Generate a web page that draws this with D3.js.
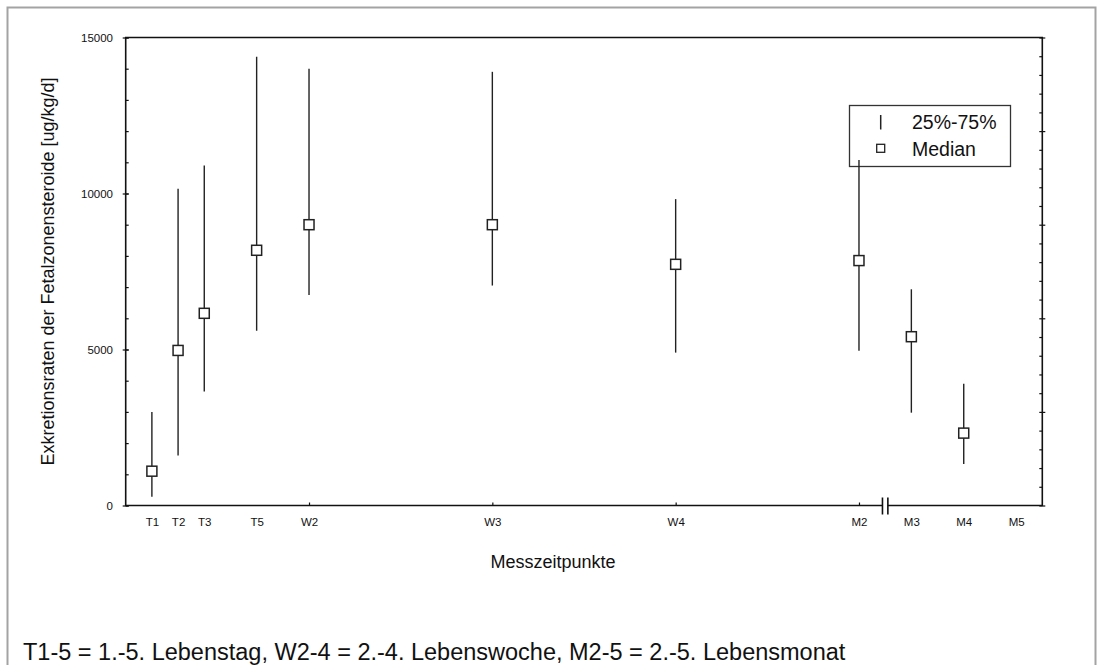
<!DOCTYPE html>
<html>
<head>
<meta charset="utf-8">
<script src="https://cdn.jsdelivr.net/npm/d3@7"></script>
<style>
  html, body { margin: 0; padding: 0; background: #fff; }
  svg { display: block; font-family: "Liberation Sans", Arial, sans-serif; }
</style>
</head>
<body>
<svg id="chart" width="1098" height="665"></svg>
<script>
// Measurement points (x position in days-like units, labels on the axis)
const labels    = ["T1", "T2", "T3", "T5", "W2", "W3", "W4", "M2", "M3", "M4", "M5"];
const positions = [1, 2, 3, 5, 7, 14, 21, 28, 30, 32, 34];
// Excretion rates [ug/kg/d]: median and interquartile range (M5 has no data)
const medians = [1100, 4970, 6160, 8180, 9000, 9000, 7730, 7850, 5410, 2320, null];
const q25     = [280, 1600, 3650, 5600, 6750, 7050, 4900, 4960, 2975, 1330, null];
const q75     = [3000, 10150, 10900, 14380, 14000, 13900, 9820, 11070, 6930, 3900, null];
// Axis tick values
const yMajorTicks = [0, 5000, 10000, 15000];
const yMinorTicks = d3.range(0, 15001, 1000);
const yRightTicks = d3.range(0, 15001, 600);
const yRightMajor = d3.range(0, 15001, 3000);
const xTickMarks  = [7, 14, 21, 28];
const axisBreakAt = 29;

const svg = d3.select("#chart");
const pLeft = 125.7, pRight = 1042.3, pTop = 37.5, pBottom = 505.5;

const x = d3.scaleLinear().domain([0, 35]).range([pLeft, pRight]);
const y = d3.scaleLinear().domain([0, 15000]).range([pBottom, pTop]);

const ink = "#111";

// outer figure border
svg.append("rect")
  .attr("x", 7.5).attr("y", 7.5).attr("width", 1088).attr("height", 720)
  .attr("fill", "none").attr("stroke", "#a3a3a3").attr("stroke-width", 2);

function styleAxis(g) {
  g.select(".domain").remove();
  g.selectAll(".tick line").attr("stroke", ink).attr("stroke-width", 1.2);
  g.selectAll(".tick text").attr("fill", "#111").attr("font-size", "11.5px")
    .attr("font-family", "Liberation Sans, Arial, sans-serif");
}

// left axis: inward minor ticks, crossing major ticks with labels
svg.append("g").attr("transform", `translate(${pLeft},0)`)
  .call(d3.axisLeft(y).tickValues(yMinorTicks).tickSize(-3).tickFormat(""))
  .call(styleAxis);
svg.append("g").attr("transform", `translate(${pLeft},0)`)
  .call(d3.axisLeft(y).tickValues(yMajorTicks).tickSize(3).tickPadding(9.7).tickFormat(d3.format("d")))
  .call(styleAxis);
svg.append("g").attr("transform", `translate(${pLeft},0)`)
  .call(d3.axisLeft(y).tickValues(yMajorTicks).tickSize(-3).tickFormat(""))
  .call(styleAxis);

// right axis: unlabeled ticks
svg.append("g").attr("transform", `translate(${pRight},0)`)
  .call(d3.axisRight(y).tickValues(yRightTicks).tickSize(-3).tickFormat(""))
  .call(styleAxis);
svg.append("g").attr("transform", `translate(${pRight},0)`)
  .call(d3.axisRight(y).tickValues(yRightMajor).tickSize(3).tickFormat(""))
  .call(styleAxis);

// bottom axis: labels at each measurement point, tick marks at weekly steps
svg.append("g").attr("transform", `translate(0,${pBottom})`)
  .call(d3.axisBottom(x).tickValues(positions).tickSize(0).tickPadding(12)
    .tickFormat((d, i) => labels[i]))
  .call(styleAxis);
svg.append("g").attr("transform", `translate(0,${pBottom})`)
  .call(d3.axisBottom(x).tickValues(xTickMarks).tickSize(-3).tickFormat(""))
  .call(styleAxis);

// plot frame, with a gap in the bottom line for the axis break
const bx = x(axisBreakAt);
const frame = svg.append("g").attr("stroke", ink).attr("stroke-width", 1.6).attr("fill", "none");
frame.append("path").attr("d", `M${bx - 2.7},${pBottom}H${pLeft}V${pTop}H${pRight}V${pBottom}H${bx + 2.7}`);
frame.append("line").attr("x1", bx - 2.7).attr("x2", bx - 2.7).attr("y1", pBottom - 8).attr("y2", pBottom + 9);
frame.append("line").attr("x1", bx + 2.7).attr("x2", bx + 2.7).attr("y1", pBottom - 8).attr("y2", pBottom + 9);

// legend (drawn beneath the data marks)
const lg = svg.append("g");
lg.append("rect").attr("x", 849.5).attr("y", 105.5).attr("width", 161).attr("height", 61)
  .attr("fill", "#fff").attr("stroke", "#333").attr("stroke-width", 1.3);
lg.append("line").attr("x1", 880.7).attr("x2", 880.7).attr("y1", 115).attr("y2", 129.5)
  .attr("stroke", "#222").attr("stroke-width", 1.5);
lg.append("rect").attr("x", 876.7).attr("y", 144.3).attr("width", 8).attr("height", 8)
  .attr("fill", "#fff").attr("stroke", "#222").attr("stroke-width", 1.3);
lg.append("text").attr("x", 912).attr("y", 128.5).attr("font-size", "19.5px").attr("fill", "#111")
  .text("25%-75%");
lg.append("text").attr("x", 912).attr("y", 155.8).attr("font-size", "19.5px").attr("fill", "#111")
  .text("Median");

// data: interquartile whiskers and median squares
const rows = positions.map((p, i) => ({ p, med: medians[i], lo: q25[i], hi: q75[i] }))
  .filter(d => d.med != null);

svg.append("g").selectAll("line").data(rows).join("line")
  .attr("x1", d => x(d.p)).attr("x2", d => x(d.p))
  .attr("y1", d => y(d.lo)).attr("y2", d => y(d.hi))
  .attr("stroke", "#222").attr("stroke-width", 1.4);

const sq = 10;
svg.append("g").selectAll("rect").data(rows).join("rect")
  .attr("x", d => x(d.p) - sq / 2).attr("y", d => y(d.med) - sq / 2)
  .attr("width", sq).attr("height", sq)
  .attr("fill", "#fff").attr("stroke", "#222").attr("stroke-width", 1.5);

// axis titles
svg.append("text")
  .attr("transform", `translate(54,${(pTop + pBottom) / 2}) rotate(-90)`)
  .attr("text-anchor", "middle").attr("font-size", "18px").attr("fill", "#111")
  .text("Exkretionsraten der Fetalzonensteroide [ug/kg/d]");
svg.append("text")
  .attr("x", 553).attr("y", 568).attr("text-anchor", "middle")
  .attr("font-size", "18px").attr("fill", "#111")
  .text("Messzeitpunkte");

// footnote
svg.append("text")
  .attr("x", 23).attr("y", 659.5).attr("font-size", "23.5px").attr("fill", "#111")
  .text("T1-5 = 1.-5. Lebenstag, W2-4 = 2.-4. Lebenswoche, M2-5 = 2.-5. Lebensmonat");
</script>
</body>
</html>
